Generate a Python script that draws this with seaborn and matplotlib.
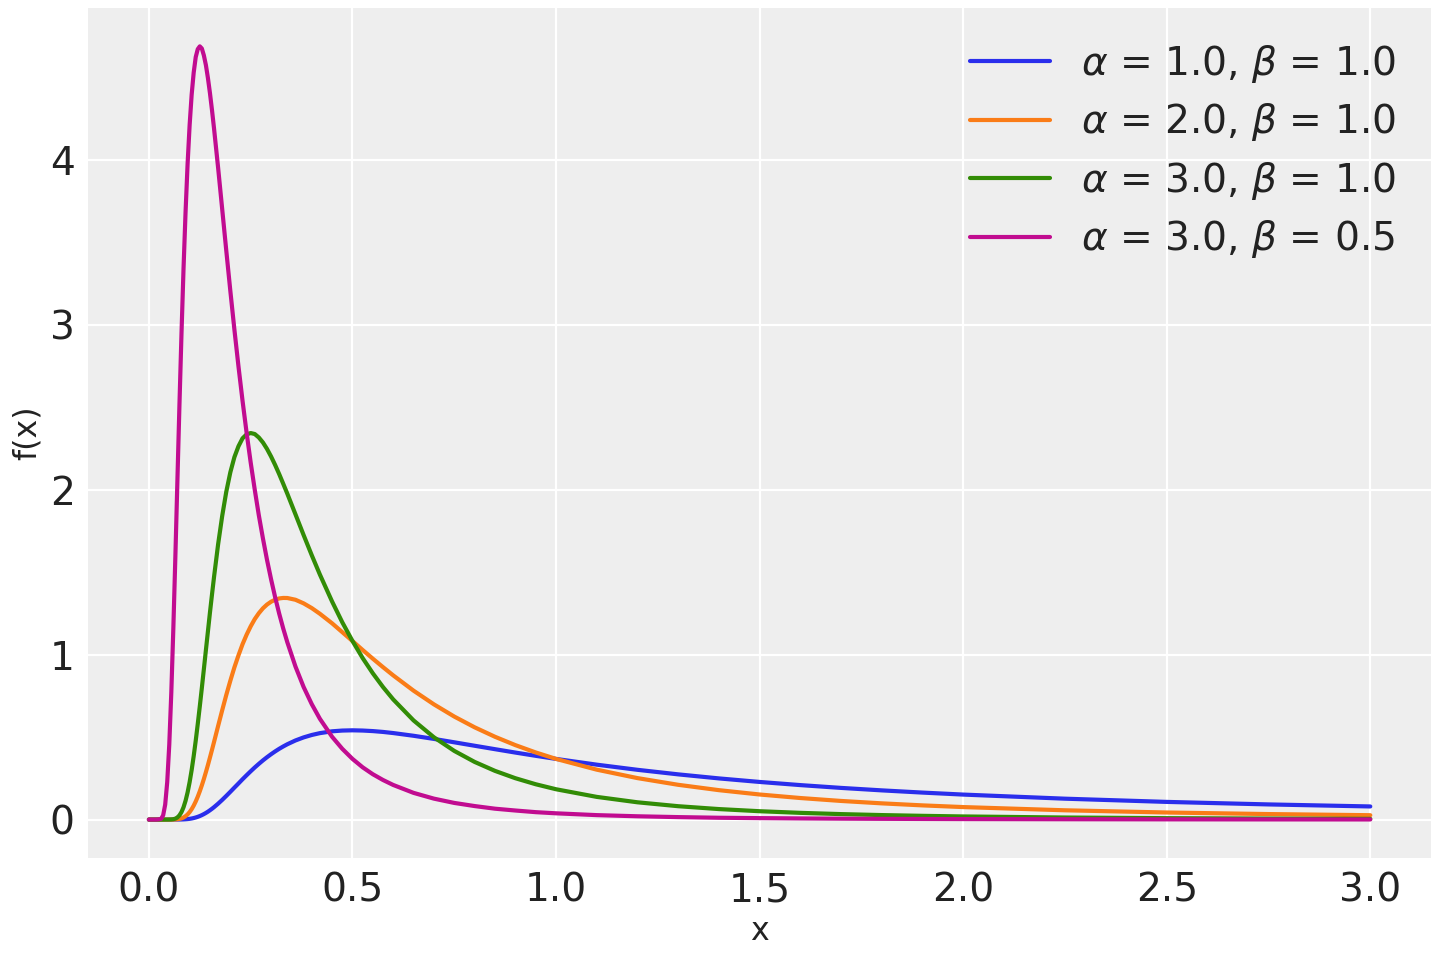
import pandas as pd
import seaborn as sns
import matplotlib
import matplotlib.pyplot as plt
matplotlib.use('Agg')

x = [0.0, 0.02, 0.03, 0.035, 0.04, 0.045, 0.05, 0.055, 0.06, 0.065,
     0.07, 0.075, 0.08, 0.085, 0.09, 0.095, 0.10, 0.105, 0.11, 0.115,
     0.12, 0.125, 0.13, 0.135, 0.14, 0.145, 0.15, 0.155, 0.16, 0.17,
     0.18, 0.19, 0.20, 0.21, 0.22, 0.23, 0.24, 0.25, 0.26, 0.27,
     0.28, 0.29, 0.30, 0.31, 0.32, 0.33, 0.34, 0.36, 0.38, 0.40,
     0.42, 0.45, 0.475, 0.50, 0.525, 0.55, 0.575, 0.60, 0.65, 0.70,
     0.75, 0.80, 0.85, 0.90, 0.95, 1.0, 1.1, 1.2, 1.3, 1.4,
     1.5, 1.6, 1.7, 1.8, 1.9, 2.0, 2.25, 2.5, 2.75, 3.0]

# alpha = 1.0, beta = 1.0
f_a1_b1 = [0, 0, 0, 0, 0, 0, 0, 0, 0, 0,
           0.0001, 0.0003, 0.0006, 0.0011, 0.0019, 0.0030, 0.0045, 0.0066, 0.0093, 0.0127,
           0.0167, 0.0215, 0.0270, 0.0333, 0.0403, 0.0480, 0.0566, 0.0656, 0.0754, 0.0965,
           0.1193, 0.1435, 0.1684, 0.1939, 0.2190, 0.2446, 0.2691, 0.2930, 0.3161, 0.3379,
           0.3587, 0.3781, 0.3963, 0.4133, 0.4291, 0.4435, 0.4568, 0.4798, 0.4983, 0.5130,
           0.5242, 0.5353, 0.5398, 0.5413, 0.5399, 0.5366, 0.5315, 0.5247, 0.5082, 0.4892,
           0.4686, 0.4477, 0.4269, 0.4064, 0.3867, 0.3679, 0.3330, 0.3018, 0.2742, 0.2497,
           0.2282, 0.2091, 0.1921, 0.1771, 0.1637, 0.1516, 0.1267, 0.1072, 0.0919, 0.0796]

# alpha = 2.0, beta = 1.0
f_a2_b1 = [0, 0, 0, 0, 0, 0, 0, 0, 0, 0.0008,
           0.0018, 0.0038, 0.0073, 0.0127, 0.0205, 0.0313, 0.0454, 0.0631, 0.0847, 0.1100,
           0.1390, 0.1718, 0.2076, 0.2464, 0.2880, 0.3313, 0.3770, 0.4235, 0.4710, 0.5677,
           0.6630, 0.7553, 0.8420, 0.9233, 0.9960, 1.0635, 1.1213, 1.1720, 1.2158, 1.2514,
           1.2810, 1.3038, 1.3210, 1.3333, 1.3410, 1.3440, 1.3436, 1.3330, 1.3112, 1.2825,
           1.2480, 1.1900, 1.1365, 1.0827, 1.0284, 0.9756, 0.9243, 0.8746, 0.7818, 0.6988,
           0.6248, 0.5596, 0.5022, 0.4516, 0.4071, 0.3679, 0.3027, 0.2515, 0.2109, 0.1784,
           0.1521, 0.1307, 0.1130, 0.0984, 0.0861, 0.0758, 0.0563, 0.0429, 0.0334, 0.0265]

# alpha = 3.0, beta = 1.0
f_a3_b1 = [0, 0, 0, 0, 0, 0, 0.0002, 0.0007, 0.0022, 0.0058,
           0.0130, 0.0256, 0.0455, 0.0745, 0.1139, 0.1646, 0.2270, 0.3006, 0.3850, 0.4783,
           0.5800, 0.6870, 0.7980, 0.9125, 1.0280, 1.1424, 1.2570, 1.3660, 1.4720, 1.6697,
           1.8410, 1.9876, 2.1060, 2.1980, 2.2640, 2.3120, 2.3360, 2.3440, 2.3380, 2.3170,
           2.2870, 2.2480, 2.2020, 2.1505, 2.0950, 2.0360, 1.9760, 1.8510, 1.7253, 1.6030,
           1.4857, 1.3220, 1.1963, 1.0830, 0.9794, 0.8870, 0.8037, 0.7288, 0.6014, 0.4992,
           0.4165, 0.3497, 0.2954, 0.2509, 0.2143, 0.1839, 0.1376, 0.1048, 0.0811, 0.0637,
           0.0507, 0.0408, 0.0332, 0.0273, 0.0227, 0.0190, 0.0125, 0.0086, 0.0061, 0.0044]

# alpha = 3.0, beta = 0.5
f_a3_b05 = [0, 0, 0.0045, 0.026, 0.091, 0.228, 0.454, 0.770, 1.159, 1.596,
            2.057, 2.514, 2.945, 3.339, 3.683, 3.975, 4.211, 4.396, 4.530, 4.624,
            4.672, 4.689, 4.676, 4.634, 4.575, 4.496, 4.404, 4.301, 4.190, 3.952,
            3.702, 3.451, 3.206, 2.971, 2.748, 2.539, 2.345, 2.165, 2.000, 1.845,
            1.706, 1.576, 1.458, 1.349, 1.249, 1.158, 1.075, 0.928, 0.804, 0.700,
            0.611, 0.502, 0.429, 0.368, 0.317, 0.275, 0.240, 0.210, 0.162, 0.127,
            0.101, 0.082, 0.066, 0.055, 0.045, 0.038, 0.027, 0.020, 0.015, 0.011,
            0.0088, 0.0070, 0.0056, 0.0045, 0.0037, 0.0030, 0.0020, 0.0013, 0.0009, 0.0007]

labels = [r'$\alpha$ = 1.0, $\beta$ = 1.0',
          r'$\alpha$ = 2.0, $\beta$ = 1.0',
          r'$\alpha$ = 3.0, $\beta$ = 1.0',
          r'$\alpha$ = 3.0, $\beta$ = 0.5']
colors = ['#2a2eec', '#fa7c17', '#328c06', '#c10c90']
series = [f_a1_b1, f_a2_b1, f_a3_b1, f_a3_b05]

sns.set_theme(style='darkgrid', rc={
    'axes.facecolor': '#eeeeee',
    'grid.color': 'white',
    'grid.linewidth': 1.3,
    'axes.edgecolor': '#eeeeee',
    'xtick.color': '#222222',
    'ytick.color': '#222222',
    'text.color': '#222222',
    'axes.labelcolor': '#222222',
})
plt.rcParams['font.family'] = ['DejaVu Sans']
plt.rcParams['mathtext.fontset'] = 'dejavusans'

fig, ax = plt.subplots(figsize=(12, 8), dpi=120)
for y, lab, c in zip(series, labels, colors):
    sns.lineplot(x=x, y=y, ax=ax, label=lab, color=c, linewidth=2.5)

for s in ax.spines.values():
    s.set_visible(False)
ax.set_xlabel('x', fontsize=19)
ax.set_ylabel('f(x)', fontsize=19)
ax.tick_params(axis='both', labelsize=23.5, length=0, pad=8)
ax.set_yticks([0, 1, 2, 3, 4])
ax.legend(loc='upper right', fontsize=23.5, frameon=False, handlelength=2.05,
          labelspacing=0.42, handletextpad=0.8)

fig.subplots_adjust(left=0.061, right=0.994, top=0.992, bottom=0.106)
plt.savefig('out.png', dpi=120)
